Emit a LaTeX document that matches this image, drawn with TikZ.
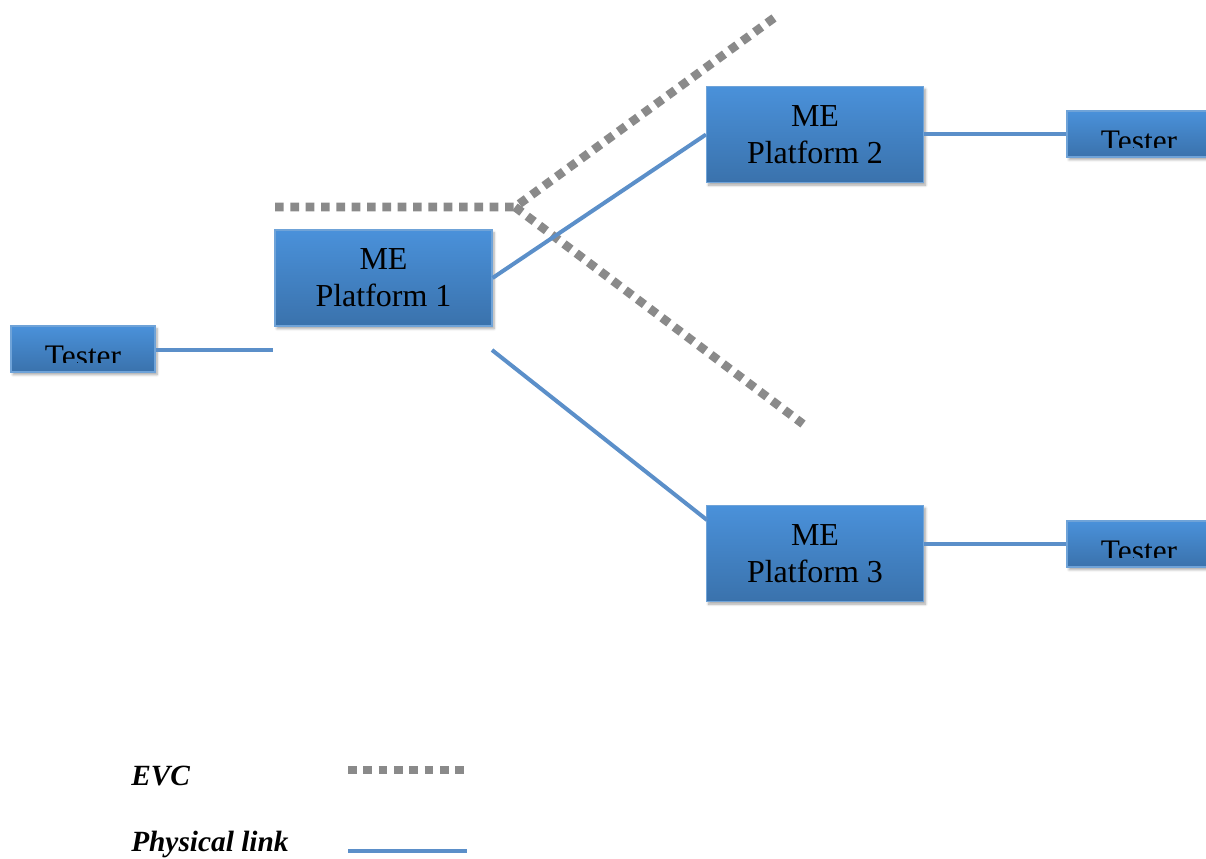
\documentclass[tikz,border=0pt]{standalone}
\usepackage{fontspec}
\setmainfont{Liberation Serif}
\usetikzlibrary{shadows.blur}
\definecolor{boxtop}{HTML}{4A91DA}
\definecolor{boxbot}{HTML}{3A72AC}
\definecolor{boxedge}{HTML}{6FA3D8}
\definecolor{linkblue}{HTML}{5B8FC9}
\definecolor{evcgray}{HTML}{8A8A8A}
\tikzset{
  box/.style={rectangle, top color=boxtop, bottom color=boxbot, draw=boxedge, line width=0.8pt,
    blur shadow={shadow xshift=1.5pt, shadow yshift=-2pt, shadow blur steps=6, shadow opacity=35},
    inner sep=0pt},
  platform/.style={box, minimum width=162.75pt, minimum height=72pt, align=center,
    font=\fontsize{24}{28}\selectfont},
  testerbox/.style={box, minimum width=108pt, minimum height=34.5pt},
  link/.style={draw=linkblue, line width=3pt},
  evc/.style={draw=evcgray, line width=6.5pt, dash pattern=on 6.5pt off 5pt},
  legendtext/.style={font=\fontsize{22}{26}\selectfont\bfseries\itshape, anchor=base west, inner sep=0pt}
}
\newcommand{\testertext}{%
  \begin{scope}
  \clip ([yshift=2pt]path picture bounding box.north west) rectangle ([yshift=7.5pt]path picture bounding box.south east);
  \node[font=\fontsize{23.5}{28}\selectfont, anchor=base, inner sep=0pt] at ([yshift=4.5pt]path picture bounding box.south) {Tester};
  \end{scope}}
\begin{document}
\begin{tikzpicture}[x=0.75pt, y=-0.75pt]
\useasboundingbox (0,0) rectangle (1206,858);
% EVC
\coordinate (e0) at (275,207);
\coordinate (e1) at (515,207);
\coordinate (e2) at (778,15);
\coordinate (e3) at (803,424);
\draw[evc] (e0) -- (e1) -- (e2);
\draw[evc] (e1) -- (e3);
% nodes
\node[testerbox, path picture={\testertext}] (tl) at (83,349) {};
\node[platform] (p1) at (383.5,278) {ME\\Platform 1};
\node[platform] (p2) at (815,134.5) {ME\\Platform 2};
\node[platform] (p3) at (815,553.5) {ME\\Platform 3};
\node[testerbox, path picture={\testertext}] (tr2) at (1139,134) {};
\node[testerbox, path picture={\testertext}] (tr3) at (1139,544) {};
% physical links
\coordinate (tlend) at (273,350);
\coordinate (p1low) at (492,350);
\coordinate (p3in) at (707,520);
\draw[link] (tl.east |- tlend) -- (tlend);
\draw[link] (p1.east) -- (p2.west);
\draw[link] (p1low) -- (p3in);
\draw[link] (p2.east |- tr2.west) -- (tr2.west);
\draw[link] (p3.east |- tr3.west) -- (tr3.west);
% legend
\node[legendtext] (lg1) at (131,785) {EVC};
\node[legendtext] (lg2) at (131,851) {Physical link};
\coordinate (la) at (348,770);
\coordinate (lb) at (468,770);
\coordinate (lc) at (348,851);
\coordinate (ld) at (467,851);
\draw[evc] (la) -- (lb);
\draw[link] (lc) -- (ld);
\end{tikzpicture}
\end{document}
